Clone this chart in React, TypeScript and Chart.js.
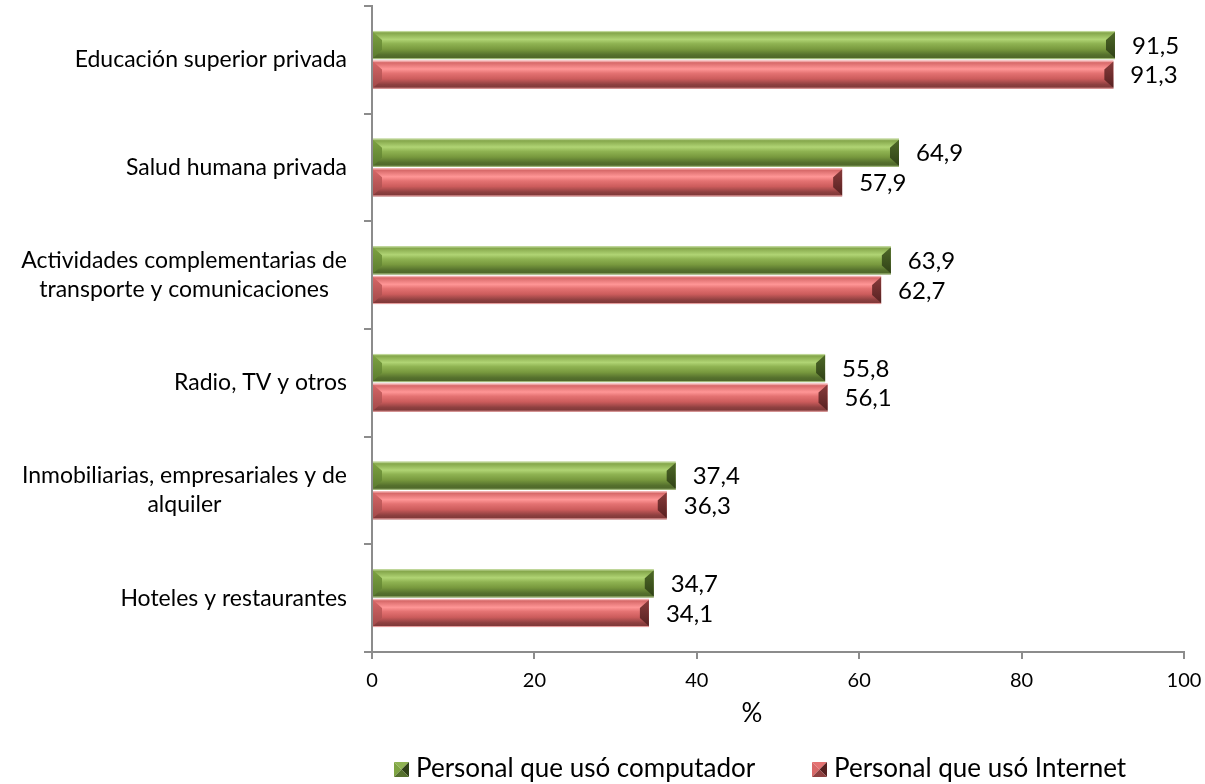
import React, { useEffect, useRef } from "react";
import { Chart, registerables } from "chart.js";

Chart.register(...registerables);

const categories: string[][] = [
  ["Educación superior privada"],
  ["Salud humana privada"],
  ["Actividades complementarias de", "transporte y comunicaciones"],
  ["Radio, TV y otros"],
  ["Inmobiliarias, empresariales y de", "alquiler"],
  ["Hoteles y restaurantes"],
];
const computador = [91.5, 64.9, 63.9, 55.8, 37.4, 34.7];
const internet = [91.3, 57.9, 62.7, 56.1, 36.3, 34.1];
const xTicks = [0, 20, 40, 60, 80, 100];
const seriesNames = ["Personal que usó computador", "Personal que usó Internet"];
const axisTitle = "%";

const FONT = "Lato, 'Open Sans', sans-serif";

type Pal = { body: [number, string][]; left: [string, string]; right: [string, string]; top: string; bottom: string };

const greenPal: Pal = {
  body: [
    [0, "#a9c47a"],
    [0.08, "#86a84c"],
    [0.3, "#b0d474"],
    [0.45, "#8fb352"],
    [0.65, "#78993e"],
    [0.85, "#55702d"],
    [1, "#4c6428"],
  ],
  left: ["#7ea442", "#5a7a2e"],
  right: ["#4f6a28", "#2f4016"],
  top: "#c0d89a",
  bottom: "#a8c080",
};
const redPal: Pal = {
  body: [
    [0, "#eea0a0"],
    [0.08, "#d86a6a"],
    [0.3, "#ff9696"],
    [0.45, "#e47272"],
    [0.65, "#cc5c5c"],
    [0.85, "#8e4040"],
    [1, "#7a3636"],
  ],
  left: ["#d86868", "#a04848"],
  right: ["#8a3c3c", "#552020"],
  top: "#f4b4b4",
  bottom: "#e8a0a0",
};

function drawBevel(ctx: CanvasRenderingContext2D, x0: number, x1: number, y0: number, y1: number, pal: Pal) {
  const h = y1 - y0;
  const w = x1 - x0;
  if (w <= 0) return;
  const b = Math.min(h * 0.32, w / 2);
  const g = ctx.createLinearGradient(0, y0, 0, y1);
  pal.body.forEach(([s, c]) => g.addColorStop(s, c));
  ctx.fillStyle = g;
  ctx.fillRect(x0, y0, w, h);
  const gl = ctx.createLinearGradient(0, y0, 0, y1);
  gl.addColorStop(0, pal.left[0]);
  gl.addColorStop(1, pal.left[1]);
  ctx.fillStyle = gl;
  ctx.beginPath();
  ctx.moveTo(x0, y0 + 1);
  ctx.lineTo(x0 + b, y0 + b);
  ctx.lineTo(x0 + b, y1 - b);
  ctx.lineTo(x0, y1 - 1);
  ctx.closePath();
  ctx.fill();
  const gr = ctx.createLinearGradient(0, y0, 0, y1);
  gr.addColorStop(0, pal.right[0]);
  gr.addColorStop(1, pal.right[1]);
  ctx.fillStyle = gr;
  ctx.beginPath();
  ctx.moveTo(x1, y0 + 1);
  ctx.lineTo(x1 - b, y0 + b);
  ctx.lineTo(x1 - b, y1 - b);
  ctx.lineTo(x1, y1 - 1);
  ctx.closePath();
  ctx.fill();
  ctx.fillStyle = pal.top;
  ctx.fillRect(x0, y0, w, 1);
  ctx.fillStyle = pal.bottom;
  ctx.fillRect(x0, y1 - 1, w, 1);
}

function drawMarker(ctx: CanvasRenderingContext2D, x: number, y: number, s: number, pal: Pal) {
  const cx = x + s / 2;
  const cy = y + s / 2;
  const tri = (pts: number[][], c: string) => {
    ctx.fillStyle = c;
    ctx.beginPath();
    ctx.moveTo(pts[0][0], pts[0][1]);
    for (let i = 1; i < pts.length; i++) ctx.lineTo(pts[i][0], pts[i][1]);
    ctx.closePath();
    ctx.fill();
  };
  tri([[x, y], [x + s, y], [cx, cy]], pal.body[3][1]);
  tri([[x, y], [cx, cy], [x, y + s]], pal.left[0]);
  tri([[x + s, y], [x + s, y + s], [cx, cy]], pal.right[1]);
  tri([[x, y + s], [cx, cy], [x + s, y + s]], pal.body[5][1]);
}

const palettes = [greenPal, redPal];

const decorPlugin = {
  id: "decor",
  afterDatasetsDraw(chart: any) {
    const ctx: CanvasRenderingContext2D = chart.ctx;
    ctx.save();
    chart.data.datasets.forEach((ds: any, di: number) => {
      const meta = chart.getDatasetMeta(di);
      meta.data.forEach((el: any, i: number) => {
        const h = el.height;
        const y0 = el.y - h / 2;
        const y1 = el.y + h / 2;
        drawBevel(ctx, el.base, el.x, y0, y1, palettes[di]);
        const v = ds.data[i] as number;
        ctx.fillStyle = "#000";
        ctx.font = `24px ${FONT}`;
        ctx.textAlign = "left";
        ctx.textBaseline = "middle";
        ctx.fillText(v.toFixed(1).replace(".", ","), el.x + 17, el.y + 1);
      });
    });
    ctx.restore();
  },
  afterDraw(chart: any) {
    const ctx: CanvasRenderingContext2D = chart.ctx;
    const yScale = chart.scales.y;
    ctx.save();
    ctx.fillStyle = "#000";
    ctx.font = `23px ${FONT}`;
    ctx.textBaseline = "middle";
    ctx.textAlign = "center";
    const right = 347;
    const lh = 29;
    categories.forEach((lines, i) => {
      const cy = yScale.getPixelForValue(i);
      const maxW = Math.max(...lines.map((l) => ctx.measureText(l).width));
      const cx = right - maxW / 2;
      lines.forEach((l, j) => {
        ctx.fillText(l, cx, cy + (j - (lines.length - 1) / 2) * lh);
      });
    });
    ctx.font = `26px ${FONT}`;
    ctx.fillText(axisTitle, 752, 714);
    ctx.font = `26px ${FONT}`;
    ctx.textAlign = "left";
    const ly = 769;
    const legendX = [394, 812];
    seriesNames.forEach((n, i) => {
      drawMarker(ctx, legendX[i], ly - 7, 15, palettes[i]);
      ctx.fillStyle = "#000";
      ctx.fillText(n, legendX[i] + 22, ly);
    });
    ctx.restore();
  },
};

export default function App() {
  const ref = useRef<HTMLCanvasElement>(null);
  useEffect(() => {
    if (!ref.current) return;
    const chart = new Chart(ref.current, {
      type: "bar",
      data: {
        labels: categories.map((c) => c.join(" ")),
        datasets: [
          { label: seriesNames[0], data: computador, backgroundColor: "rgba(0,0,0,0)", borderWidth: 0 },
          { label: seriesNames[1], data: internet, backgroundColor: "rgba(0,0,0,0)", borderWidth: 0 },
        ],
      },
      options: {
        indexAxis: "y",
        responsive: false,
        animation: false,
        devicePixelRatio: 1,
        datasets: { bar: { categoryPercentage: 0.55, barPercentage: 0.95 } },
        layout: { padding: { top: 6, right: 21, left: 0, bottom: 0 } },
        plugins: {
          legend: { display: false },
          tooltip: { enabled: false },
        },
        scales: {
          x: {
            min: 0,
            max: 100,
            afterBuildTicks: (scale: any) => {
              scale.ticks = xTicks.map((v) => ({ value: v }));
            },
            afterFit: (scale: any) => {
              scale.height = 132;
              scale.paddingRight = 0;
              scale.paddingLeft = 0;
            },
            ticks: { color: "#000", font: { family: FONT, size: 20 }, padding: 10, maxRotation: 0 },
            grid: { drawOnChartArea: false, tickLength: 7, color: "#8c8c8c", lineWidth: 2 },
            border: { color: "#8c8c8c", width: 2 },
          },
          y: {
            afterFit: (scale: any) => {
              scale.width = 372;
            },
            ticks: { display: false },
            grid: { drawOnChartArea: false, tickLength: 8, color: "#8c8c8c", lineWidth: 2, offset: true },
            border: { color: "#8c8c8c", width: 2 },
          },
        },
      },
      plugins: [decorPlugin],
    });
    return () => chart.destroy();
  }, []);
  return (
    <div style={{ position: "fixed", left: 0, top: 0, width: 1205, height: 784, background: "#fff" }}>
      <canvas ref={ref} width={1205} height={784} />
    </div>
  );
}
